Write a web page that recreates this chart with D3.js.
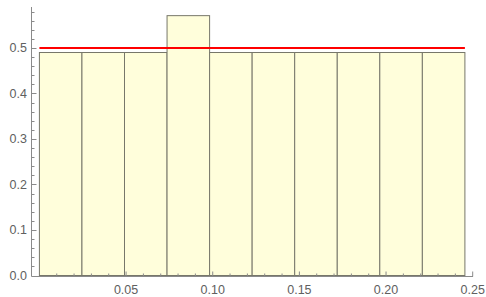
<!DOCTYPE html>
<html><head><meta charset="utf-8">
<script src="https://cdn.jsdelivr.net/npm/d3@7"></script>
<style>body{margin:0;background:#fff}svg{display:block}</style>
</head><body><svg id="c" width="486" height="297"></svg>
<script>
const binEdges = [0, 0.02455, 0.0491, 0.07365, 0.0982, 0.12275, 0.1473, 0.17185, 0.1964, 0.22095, 0.2455];
const binValues = [0.49, 0.49, 0.49, 0.571, 0.49, 0.49, 0.49, 0.49, 0.49, 0.49];
const refValue = 0.5;
const xTickValues = [0.05, 0.10, 0.15, 0.20, 0.25];
const xTickLabels = ["0.05", "0.10", "0.15", "0.20", "0.25"];
const yTickValues = [0, 0.1, 0.2, 0.3, 0.4, 0.5];
const yTickLabels = ["0.0", "0.1", "0.2", "0.3", "0.4", "0.5"];

const svg = d3.select("#c");
const x = d3.scaleLinear().domain([-0.00456, 0.25]).range([31.5, 472.7]);
const y = d3.scaleLinear().domain([0, 0.59]).range([275.5, 7]);

const axisColor = "#8a8a8a", textColor = "#606060";
const font = "Liberation Sans, Arial, sans-serif";

// bars
const bins = binValues.map((v, i) => ({x0: binEdges[i], x1: binEdges[i+1], v}));
svg.append("g").selectAll("rect").data(bins).join("rect")
  .attr("x", d => x(d.x0)).attr("width", d => x(d.x1) - x(d.x0))
  .attr("y", d => y(d.v)).attr("height", d => y(0) - y(d.v))
  .attr("fill", "#fffedb").attr("stroke", "#77776a").attr("stroke-width", 1);

// red line
svg.append("line")
  .attr("x1", x(binEdges[0])).attr("x2", x(binEdges[binEdges.length-1]))
  .attr("y1", y(refValue)).attr("y2", y(refValue))
  .attr("stroke", "#ff0000").attr("stroke-width", 2);

// y axis
const yAx = svg.append("g").attr("transform", "translate(31.5,0)");
yAx.append("line").attr("x1", 0).attr("x2", 0).attr("y1", y(0)+0.5).attr("y2", y(0.59)).attr("stroke", axisColor);
const yMinor = d3.range(0, 59).filter(i => i % 2 === 0 && i % 10 !== 0).map(i => i / 100);
yAx.selectAll(".ymin").data(yMinor).join("line")
  .attr("x1", 0).attr("x2", 3).attr("y1", d => Math.round(y(d)) + 0.5).attr("y2", d => Math.round(y(d)) + 0.5)
  .attr("stroke", axisColor);
yAx.selectAll(".ymaj").data(yTickValues).join("line")
  .attr("x1", 0).attr("x2", 5).attr("y1", d => Math.round(y(d)) + 0.5).attr("y2", d => Math.round(y(d)) + 0.5)
  .attr("stroke", axisColor);
yAx.selectAll("text").data(yTickValues).join("text")
  .attr("x", -4.5).attr("y", d => y(d)).attr("dy", "0.36em").attr("text-anchor", "end")
  .attr("font-family", font).attr("font-size", 12.5).attr("fill", textColor)
  .text((d, i) => yTickLabels[i]);

// x axis
const xAx = svg.append("g").attr("transform", `translate(0,${Math.round(y(0)) + 0.5})`);
xAx.append("line").attr("x1", 31.5).attr("x2", 473).attr("y1", 0).attr("y2", 0).attr("stroke", axisColor);
const xMinor = d3.range(1, 26).filter(i => i % 5 !== 0).map(i => i / 100);
xAx.selectAll(".xmin").data(xMinor).join("line")
  .attr("x1", d => x(d)).attr("x2", d => x(d)).attr("y1", 0).attr("y2", -3).attr("stroke", axisColor);
xAx.selectAll(".xmaj").data(xTickValues).join("line")
  .attr("x1", d => x(d)).attr("x2", d => x(d)).attr("y1", 0).attr("y2", -5).attr("stroke", axisColor);
xAx.selectAll("text").data(xTickValues).join("text")
  .attr("x", d => x(d)).attr("y", 17).attr("text-anchor", "middle")
  .attr("font-family", font).attr("font-size", 12.5).attr("fill", textColor)
  .text((d, i) => xTickLabels[i]);
</script></body></html>
